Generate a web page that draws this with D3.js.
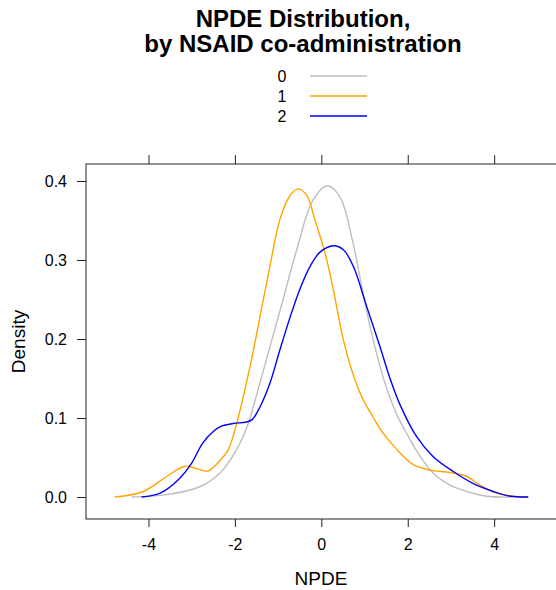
<!DOCTYPE html>
<html>
<head>
<meta charset="utf-8">
<script src="https://cdn.jsdelivr.net/npm/d3@7"></script>
<style>
  html, body { margin: 0; padding: 0; background: #fff; }
  svg { display: block; font-family: "Liberation Sans", Arial, sans-serif; }
</style>
</head>
<body>
<svg id="chart"></svg>
<script>
const width = 556;
const height = 590;

// --- Data: density curves, [npde, density] ---
const groups = ["0", "1", "2"];
const colors = ["#bebebe", "#ffa500", "#0000ff"];

const dens0 = [
  [-4.39, 0.000], [-3.58, 0.003], [-2.81, 0.013], [-2.35, 0.030], [-1.96, 0.060],
  [-1.69, 0.093], [-1.53, 0.123], [-1.21, 0.186], [-0.89, 0.249], [-0.57, 0.313],
  [-0.19, 0.376], [0.14, 0.394], [0.43, 0.380], [0.72, 0.325], [0.93, 0.268],
  [1.13, 0.215], [1.36, 0.165], [1.51, 0.138], [1.75, 0.104], [2.00, 0.078],
  [2.21, 0.058], [2.59, 0.030], [2.98, 0.015], [3.37, 0.007], [3.83, 0.001],
  [4.40, 0.000]
];
const dens1 = [
  [-4.78, 0.000], [-4.12, 0.007], [-3.58, 0.026], [-3.16, 0.039], [-2.88, 0.036],
  [-2.62, 0.033], [-2.27, 0.051], [-2.15, 0.060], [-1.96, 0.093], [-1.65, 0.165],
  [-1.42, 0.228], [-1.19, 0.292], [-0.96, 0.351], [-0.72, 0.382], [-0.53, 0.390],
  [-0.34, 0.382], [-0.15, 0.351], [0.09, 0.308], [0.28, 0.262], [0.51, 0.199],
  [0.78, 0.148], [0.97, 0.123], [1.20, 0.101], [1.40, 0.083], [1.75, 0.060],
  [2.13, 0.041], [2.52, 0.034], [2.98, 0.031], [3.37, 0.026], [3.67, 0.015],
  [4.06, 0.005], [4.44, 0.001], [4.78, 0.000]
];
const dens2 = [
  [-4.16, 0.000], [-3.73, 0.005], [-3.31, 0.022], [-3.00, 0.043], [-2.75, 0.068],
  [-2.50, 0.083], [-2.30, 0.090], [-2.04, 0.093], [-1.73, 0.095], [-1.60, 0.098],
  [-1.42, 0.114], [-1.19, 0.144], [-0.96, 0.186], [-0.72, 0.228], [-0.49, 0.264],
  [-0.26, 0.292], [-0.03, 0.310], [0.28, 0.318], [0.51, 0.313], [0.74, 0.292],
  [1.05, 0.241], [1.36, 0.190], [1.59, 0.150], [1.82, 0.117], [2.21, 0.076],
  [2.59, 0.051], [3.06, 0.032], [3.52, 0.017], [3.98, 0.007], [4.37, 0.001],
  [4.79, 0.000]
];
const series = [dens0, dens1, dens2];

const xTicks = [-4, -2, 0, 2, 4];
const yTicks = [0.0, 0.1, 0.2, 0.3, 0.4];

// --- Layout ---
const plot = { left: 86, top: 164, right: 557, bottom: 519 };

const svg = d3.select("#chart")
  .attr("width", width)
  .attr("height", height)
  .attr("viewBox", [0, 0, width, height]);

const x = d3.scaleLinear().domain([-5.446, 5.454]).range([plot.left, plot.right]);
const y = d3.scaleLinear().domain([-0.0278, 0.4215]).range([plot.bottom, plot.top]);

// --- Title ---
const title = svg.append("g")
  .attr("font-weight", "bold")
  .attr("font-size", 24)
  .attr("text-anchor", "middle");
title.append("text").attr("x", 303).attr("y", 27).text("NPDE Distribution,");
title.append("text").attr("x", 303).attr("y", 52).text("by NSAID co-administration");

// --- Legend ---
const gLegend = svg.append("g");
groups.forEach((g, i) => {
  const ly = 76 + i * 20;
  gLegend.append("text")
    .attr("x", 282).attr("y", ly)
    .attr("dy", "0.36em")
    .attr("text-anchor", "middle")
    .attr("font-size", 16)
    .text(g);
  gLegend.append("line")
    .attr("x1", 310).attr("x2", 367)
    .attr("y1", ly).attr("y2", ly)
    .attr("stroke", colors[i])
    .attr("stroke-width", 1.4);
});

// --- Curves ---
const line = d3.line()
  .x(d => x(d[0]))
  .y(d => y(d[1]))
  .curve(d3.curveCatmullRom.alpha(0.5));

svg.append("defs").append("clipPath").attr("id", "clip")
  .append("rect")
  .attr("x", plot.left).attr("y", plot.top)
  .attr("width", plot.right - plot.left).attr("height", plot.bottom - plot.top);

svg.append("g")
  .attr("clip-path", "url(#clip)")
  .selectAll("path")
  .data(series)
  .join("path")
  .attr("d", line)
  .attr("fill", "none")
  .attr("stroke", (d, i) => colors[i])
  .attr("stroke-width", 1.4);

// --- Frame + axes ---
svg.append("rect")
  .attr("x", plot.left).attr("y", plot.top)
  .attr("width", plot.right - plot.left).attr("height", plot.bottom - plot.top)
  .attr("fill", "none")
  .attr("stroke", "#222")
  .attr("stroke-width", 1);

const axisStyle = g => {
  g.select(".domain").remove();
  g.selectAll(".tick line").attr("stroke", "#222");
  g.selectAll(".tick text").attr("fill", "#000").attr("font-size", 16)
    .attr("font-family", "Liberation Sans, Arial, sans-serif");
};

svg.append("g")
  .attr("transform", `translate(0,${plot.bottom})`)
  .call(d3.axisBottom(x).tickValues(xTicks).tickSize(8).tickPadding(12).tickFormat(d => String(d)))
  .call(axisStyle);

svg.append("g")
  .attr("transform", `translate(0,${plot.top})`)
  .call(d3.axisTop(x).tickValues(xTicks).tickSize(9).tickFormat(""))
  .call(axisStyle);

svg.append("g")
  .attr("transform", `translate(${plot.left},0)`)
  .call(d3.axisLeft(y).tickValues(yTicks).tickSize(9).tickPadding(10).tickFormat(d3.format(".1f")))
  .call(axisStyle);

// --- Axis titles ---
svg.append("text")
  .attr("x", 321).attr("y", 585)
  .attr("text-anchor", "middle")
  .attr("font-size", 19)
  .text("NPDE");

svg.append("text")
  .attr("transform", `translate(25,${(plot.top + plot.bottom) / 2}) rotate(-90)`)
  .attr("text-anchor", "middle")
  .attr("font-size", 19)
  .text("Density");
</script>
</body>
</html>
